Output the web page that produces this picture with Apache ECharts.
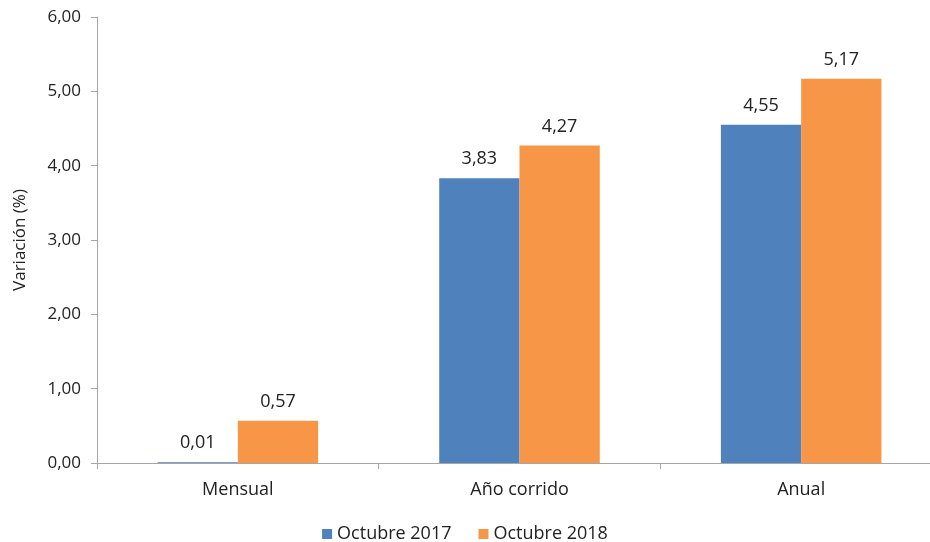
<!DOCTYPE html>
<html>
<head>
<meta charset="utf-8">
<script src="https://cdn.jsdelivr.net/npm/echarts@6/dist/echarts.min.js"></script>
<style>
  html, body { margin: 0; padding: 0; background: #fff; }
  #chart { width: 930px; height: 542px; }
</style>
</head>
<body>
<div id="chart"></div>
<script>
const categories = ['Mensual', 'Año corrido', 'Anual'];
const oct2017 = [0.01, 3.83, 4.55];
const oct2018 = [0.57, 4.27, 5.17];
const seriesNames = ['Octubre 2017', 'Octubre 2018'];

const fmt = v => v.toFixed(2).replace('.', ',');
const font = 'Open Sans';

const chart = echarts.init(document.getElementById('chart'));

const labelStyle = {
    show: true,
    position: 'top',
    distance: 10,
    color: '#222',
    fontFamily: font,
    fontSize: 18,
    formatter: p => fmt(p.value)
};

chart.setOption({
    animation: false,
    textStyle: { fontFamily: font },
    grid: { left: 97, width: 845, top: 17, bottom: 79, outerBoundsMode: 'none', containLabel: false },
    legend: {
        data: seriesNames,
        bottom: -6,
        left: 'center',
        icon: 'rect',
        itemWidth: 10,
        itemHeight: 10,
        itemGap: 27,
        textStyle: { color: '#222', fontSize: 18, fontFamily: font }
    },
    xAxis: {
        type: 'category',
        data: categories,
        axisLine: { lineStyle: { color: '#a6a6a6', width: 1 } },
        axisTick: { show: true, alignWithLabel: false, length: 6, lineStyle: { color: '#a6a6a6' } },
        axisLabel: { color: '#222', fontSize: 18, fontFamily: font, margin: 18 }
    },
    yAxis: {
        type: 'value',
        min: 0,
        max: 6,
        interval: 1,
        name: 'Variación (%)',
        nameLocation: 'middle',
        nameGap: 68,
        nameTextStyle: { color: '#222', fontSize: 17, fontFamily: font },
        axisLine: { show: true, lineStyle: { color: '#a6a6a6' } },
        axisTick: { show: true, length: 6, lineStyle: { color: '#a6a6a6' } },
        splitLine: { show: false },
        axisLabel: { color: '#222', fontSize: 17, fontFamily: font, margin: 16, formatter: v => fmt(v) }
    },
    series: [
        {
            name: seriesNames[0],
            type: 'bar',
            data: oct2017,
            barGap: '0%',
            barCategoryGap: '43%',
            itemStyle: { color: '#4f81bd' },
            label: labelStyle
        },
        {
            name: seriesNames[1],
            type: 'bar',
            data: oct2018,
            barGap: '0%',
            barCategoryGap: '43%',
            itemStyle: { color: '#f79646' },
            label: labelStyle
        }
    ]
});
</script>
</body>
</html>
